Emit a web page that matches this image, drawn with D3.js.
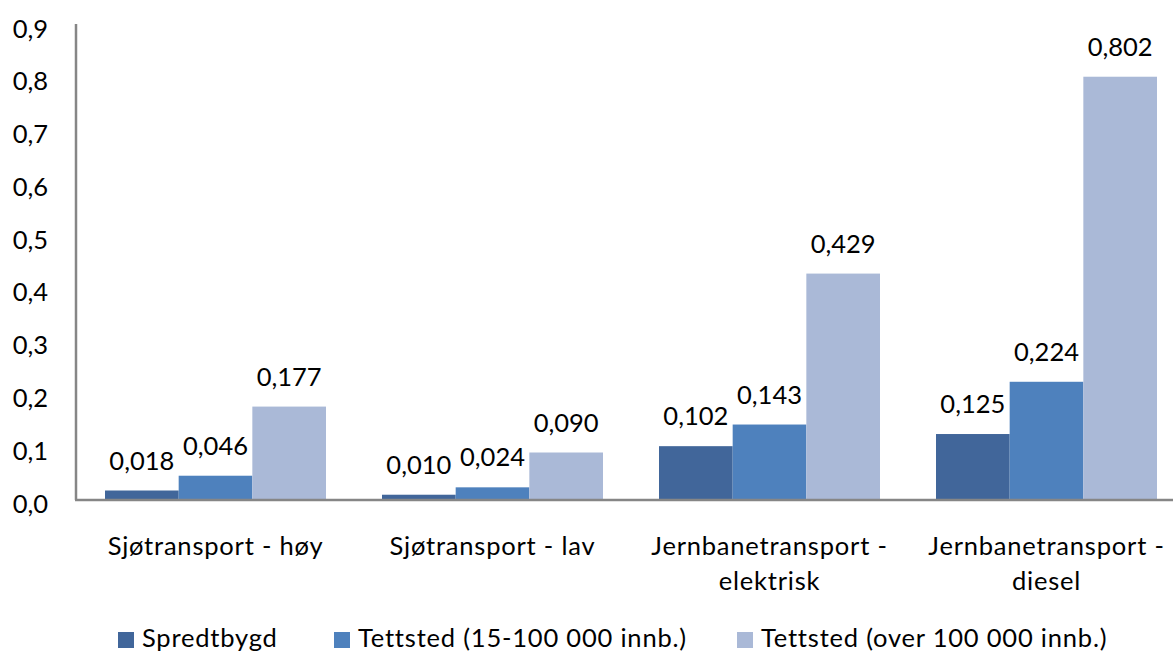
<!DOCTYPE html>
<html>
<head>
<meta charset="utf-8">
<script src="https://cdn.jsdelivr.net/npm/d3@7/dist/d3.min.js"></script>
<style>
  html, body { margin: 0; padding: 0; background: #fff; }
  svg { display: block; }
  text { font-family: Lato, "Open Sans", sans-serif; fill: #000; }
</style>
</head>
<body>
<svg id="chart" width="1173" height="652"></svg>
<script>
const categories = [
  ["Sjøtransport - høy"],
  ["Sjøtransport - lav"],
  ["Jernbanetransport -", "elektrisk"],
  ["Jernbanetransport -", "diesel"]
];
const seriesNames = ["Spredtbygd", "Tettsted (15-100 000 innb.)", "Tettsted (over 100 000 innb.)"];
const spredtbygd = [0.018, 0.010, 0.102, 0.125];
const tettstedMellom = [0.046, 0.024, 0.143, 0.224];
const tettstedStor = [0.177, 0.090, 0.429, 0.802];
const yTicks = [0, 0.1, 0.2, 0.3, 0.4, 0.5, 0.6, 0.7, 0.8, 0.9];
const colors = ["#41669A", "#4E81BD", "#AAB9D7"];

const series = [spredtbygd, tettstedMellom, tettstedStor];
const fmt = v => d3.format(".3f")(v).replace(".", ",");
const fmtAxis = v => d3.format(".1f")(v).replace(".", ",");

const svg = d3.select("#chart");
const FS = 25.5;

const y = d3.scaleLinear().domain([0, 0.9]).range([500, 25]);
const x0 = d3.scaleBand().domain(d3.range(categories.length)).range([77, 1185])
  .paddingInner(0.2022).paddingOuter(0.1011);
const x1 = d3.scaleBand().domain(d3.range(series.length)).range([0, x0.bandwidth()]);

// bars
series.forEach((vals, si) => {
  svg.append("g").selectAll("rect").data(vals).join("rect")
    .attr("x", (d, i) => x0(i) + x1(si))
    .attr("width", x1.bandwidth())
    .attr("y", d => y(d))
    .attr("height", d => y(0) - y(d))
    .attr("fill", colors[si]);
  svg.append("g").selectAll("text").data(vals).join("text")
    .attr("x", (d, i) => x0(i) + x1(si) + x1.bandwidth() / 2)
    .attr("y", d => y(d) - 21)
    .attr("text-anchor", "middle")
    .style("font-size", FS + "px")
    .text(d => fmt(d));
});

// y axis
const yAxis = d3.axisLeft(y).tickValues(yTicks).tickSize(0).tickPadding(28).tickFormat(fmtAxis);
const gy = svg.append("g").attr("transform", "translate(76,0)").call(yAxis);
gy.select(".domain").attr("stroke", "#868686").attr("stroke-width", 2.5).attr("d", "M0," + (y(0.9) - 1) + "V" + y(0));
gy.selectAll(".tick text").style("font-size", FS + "px").style("font-family", "Lato")
  .attr("fill", "#000").attr("dy", "12px");

// x axis
const xAxis = d3.axisBottom(x0).tickSize(0).tickFormat("");
const gx = svg.append("g").attr("transform", "translate(0," + y(0) + ")").call(xAxis);
gx.select(".domain").attr("stroke", "#868686").attr("stroke-width", 2.5).attr("d", "M75,0H1173");

// category labels
svg.append("g").selectAll("text").data(categories).join("text")
  .attr("x", (d, i) => x0(i) + x0.bandwidth() / 2)
  .attr("y", 555)
  .attr("text-anchor", "middle")
  .style("font-size", FS + "px")
  .style("letter-spacing", "0.8px")
  .each(function (lines) {
    const t = d3.select(this);
    lines.forEach((ln, k) => {
      t.append("tspan").attr("x", t.attr("x")).attr("dy", k === 0 ? 0 : 35).text(ln);
    });
  });

// legend
const legendX = [118, 334, 737];
const lg = svg.append("g").selectAll("g").data(seriesNames).join("g")
  .attr("transform", (d, i) => "translate(" + legendX[i] + ",0)");
lg.append("rect").attr("x", 0).attr("y", 632).attr("width", 16).attr("height", 16)
  .attr("fill", (d, i) => colors[i]);
lg.append("text").attr("x", 24).attr("y", 647).style("font-size", FS + "px")
  .style("letter-spacing", "0.8px").text(d => d);
</script>
</body>
</html>
